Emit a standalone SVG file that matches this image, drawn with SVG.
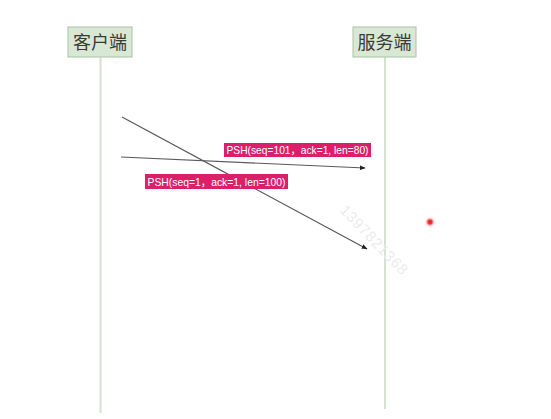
<svg xmlns="http://www.w3.org/2000/svg" width="551" height="419" viewBox="0 0 551 419">
  <style>
    .actor rect { fill: #d8e8d4; stroke: #a9c4a3; stroke-width: 1; }
    .actor text { font-family: "Noto Sans CJK SC", "Liberation Sans", sans-serif; font-size: 18px; fill: #3a3a3a; text-anchor: middle; }
    .life { stroke: #d6e2d0; stroke-width: 2; }
    .msg { stroke: #5a5a5a; stroke-width: 1.2; fill: none; marker-end: url(#arrow); }
    .tag rect { fill: #dc1f6a; }
    .tag text { font-family: "Liberation Sans", "Noto Sans CJK SC", Arial, sans-serif; font-size: 11px; fill: #fff; }
    .mark { font-family: "Liberation Sans", Arial, sans-serif; font-size: 15px; fill: #ececec; }
  </style>
  <defs>
    <marker id="arrow" viewBox="0 0 10 10" refX="9" refY="5" markerWidth="6" markerHeight="6" orient="auto" markerUnits="userSpaceOnUse">
      <path d="M0,1 L10,5 L0,9 Z" fill="#222"/>
    </marker>
    <radialGradient id="dot">
      <stop offset="0" stop-color="#e02020"/>
      <stop offset="0.35" stop-color="#f03a3a"/>
      <stop offset="0.6" stop-color="#f7a0a0" stop-opacity="0.6"/>
      <stop offset="1" stop-color="#ffffff" stop-opacity="0"/>
    </radialGradient>
  </defs>
  <rect width="551" height="419" fill="#fff"/>

  <g id="lifelines">
    <line class="life" x1="100.5" y1="57" x2="100.5" y2="413"/>
    <line class="life" x1="385" y1="57" x2="385" y2="409"/>
  </g>

  <g id="client" class="actor">
    <rect x="68" y="27" width="64" height="30"/>
    <text x="100" y="49">客户端</text>
  </g>
  <g id="server" class="actor">
    <rect x="353" y="27" width="63" height="30"/>
    <text x="384.5" y="49">服务端</text>
  </g>

  <text class="mark" transform="translate(339 211) rotate(46)" textLength="90" lengthAdjust="spacing">1397821368</text>

  <g id="connectors">
    <line class="msg" x1="122" y1="117" x2="367" y2="249"/>
    <line class="msg" x1="121" y1="157" x2="365" y2="168"/>
  </g>

  <g id="label-psh80" class="tag">
    <rect x="224" y="143" width="147" height="14"/>
    <text x="226.5" y="154" textLength="142" lengthAdjust="spacingAndGlyphs">PSH(seq=101，ack=1, len=80)</text>
  </g>
  <g id="label-psh100" class="tag">
    <rect x="145" y="174" width="143" height="15"/>
    <text x="147.5" y="185.5" textLength="138" lengthAdjust="spacingAndGlyphs">PSH(seq=1，ack=1, len=100)</text>
  </g>

  <circle cx="430" cy="222" r="6" fill="url(#dot)"/>
</svg>
